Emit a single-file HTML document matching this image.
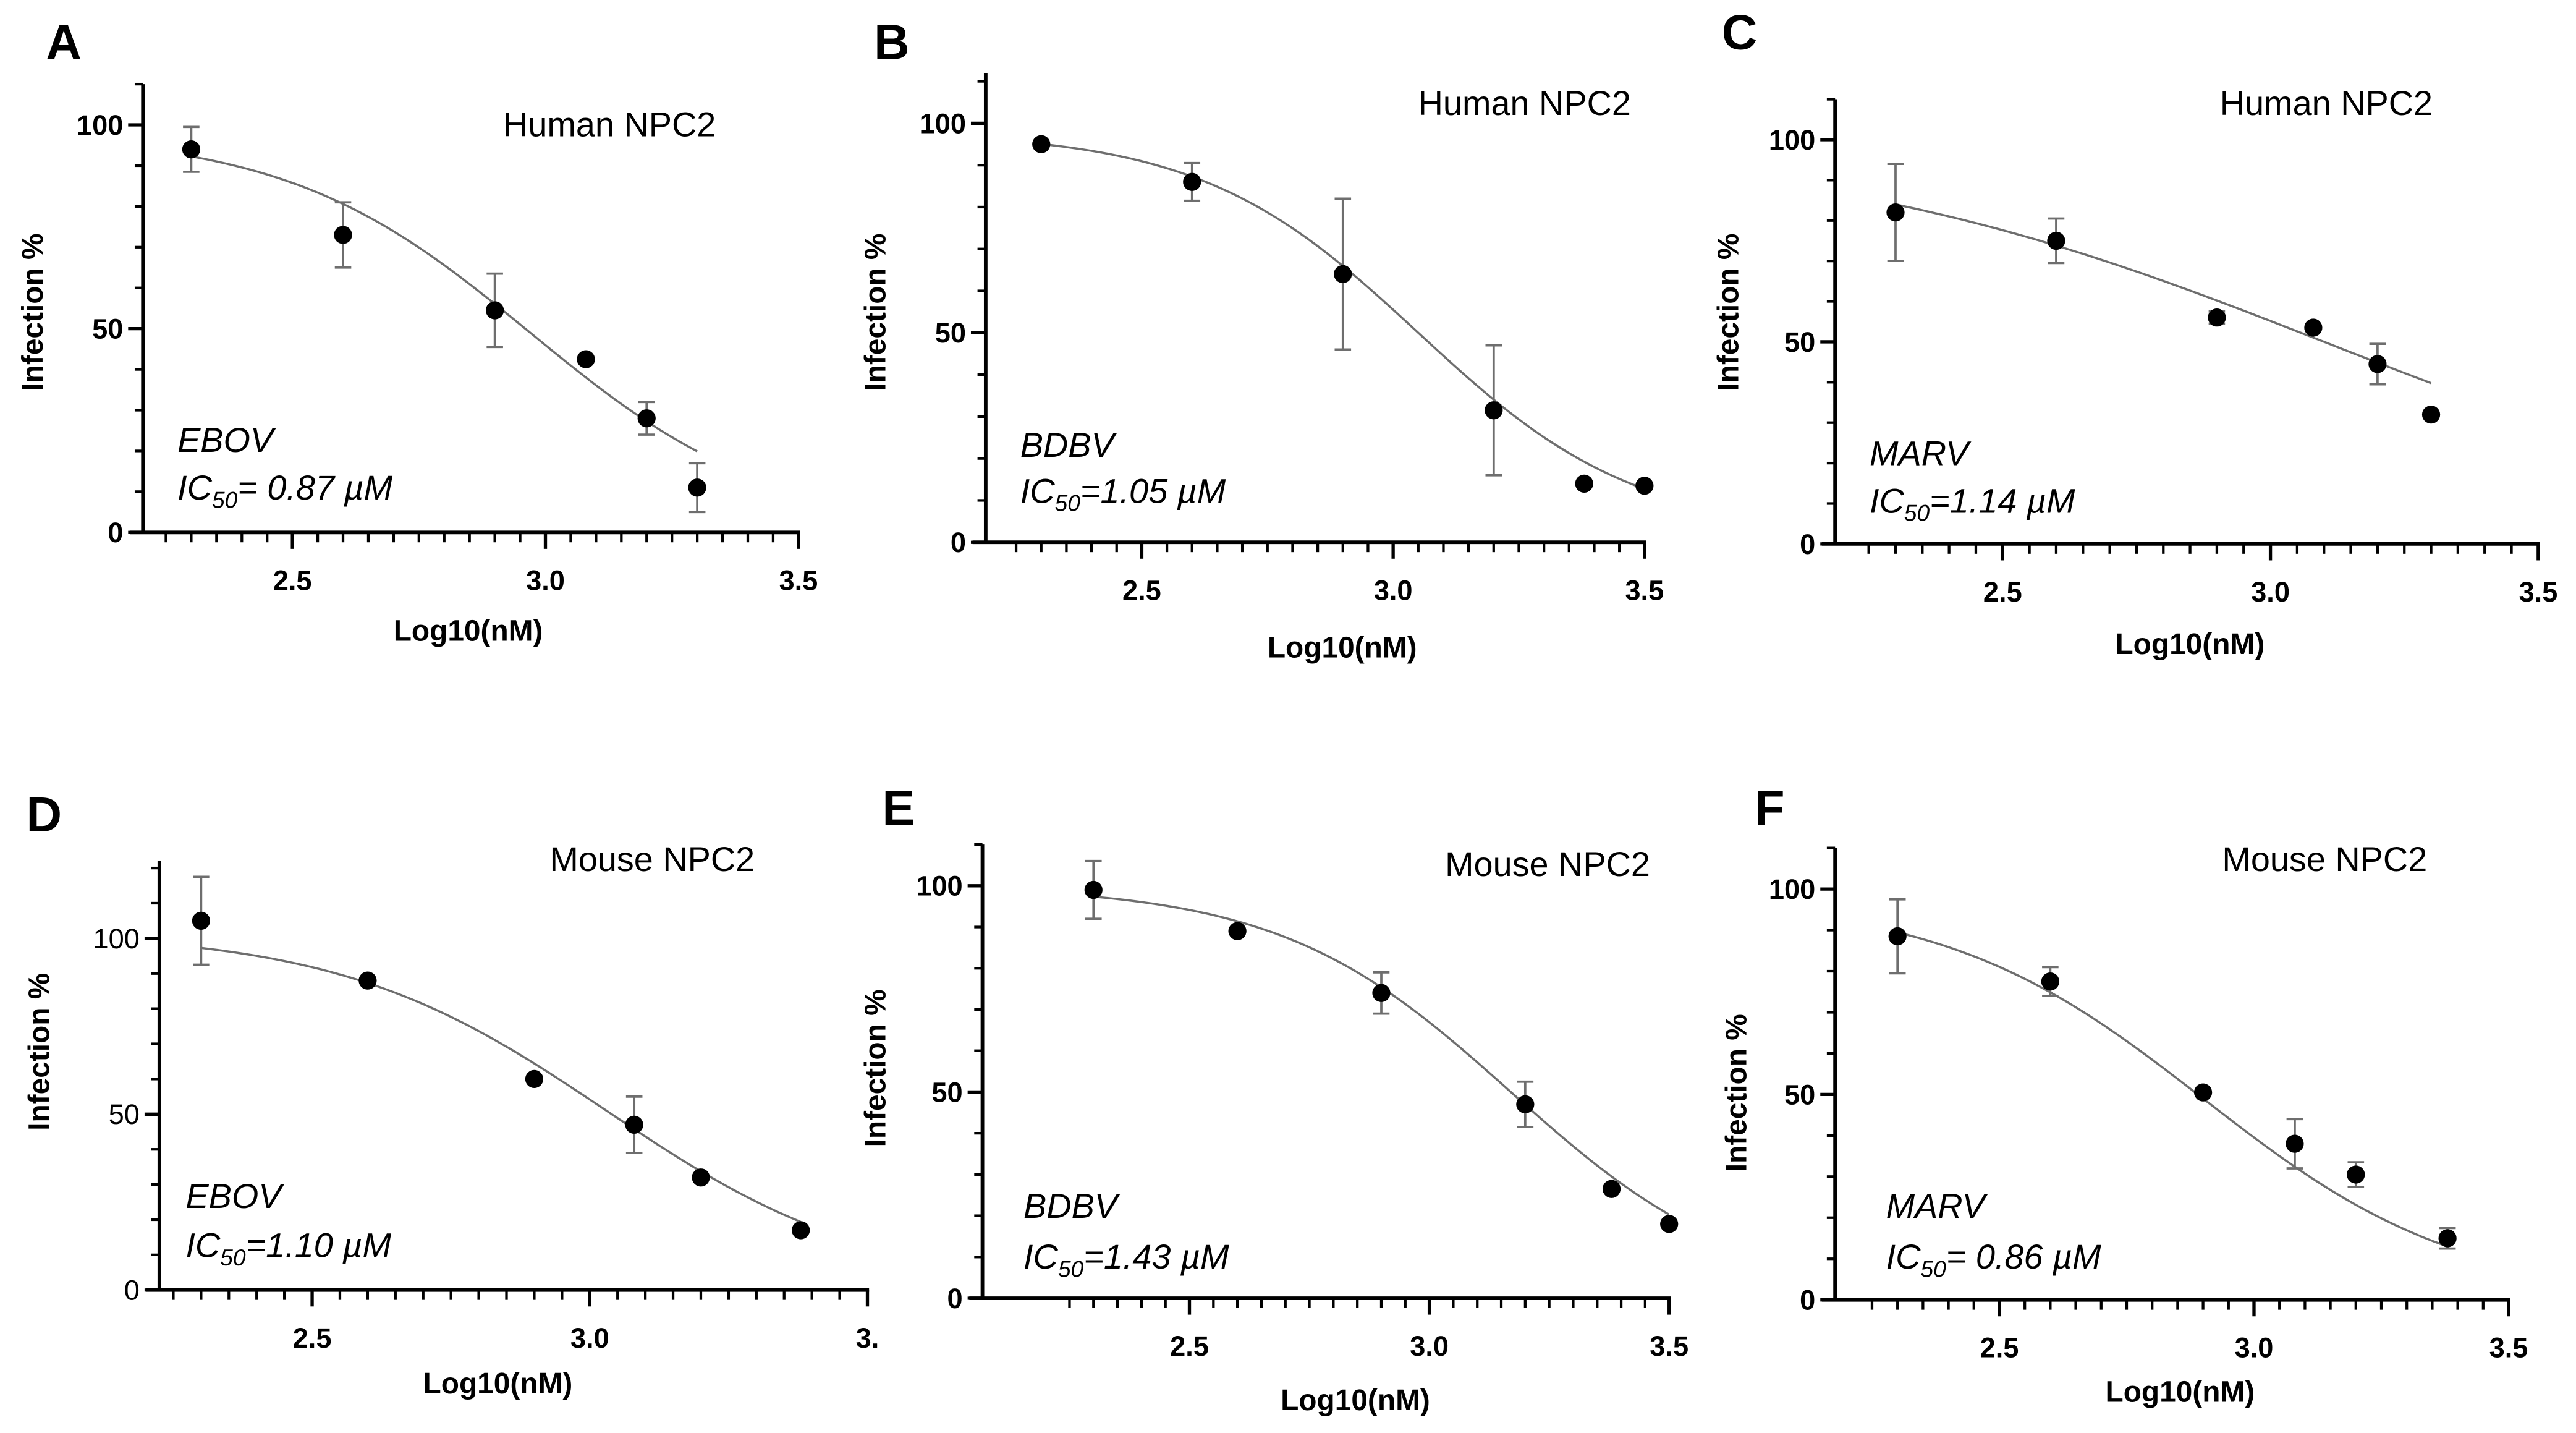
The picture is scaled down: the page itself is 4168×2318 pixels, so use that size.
<!DOCTYPE html>
<html><head><meta charset="utf-8"><style>
html,body{margin:0;padding:0;background:#fff;}
svg{display:block;}
text{font-family:"Liberation Sans",sans-serif;}
</style></head><body>
<svg id="fig" width="4168" height="2318" viewBox="0 0 1568 872" preserveAspectRatio="none" xmlns="http://www.w3.org/2000/svg"></svg>
<script>
// data arrays
const xA=[2.3,2.6,2.9,3.08,3.2,3.3], yA=[94,73,54.5,42.5,28,11], eA=[5.5,8,9,0,4,6];
const xB=[2.3,2.6,2.9,3.2,3.38,3.5], yB=[95,86,64,31.5,14,13.5], eB=[0,4.5,18,15.5,0,0];
const xC=[2.3,2.6,2.9,3.08,3.2,3.3], yC=[82,75,56,53.5,44.5,32], eC=[12,5.5,1.5,0,5,0];
const xD=[2.3,2.6,2.9,3.08,3.2,3.38], yD=[105,88,60,47,32,17], eD=[12.5,0,0,8,0,0];
const xE=[2.3,2.6,2.9,3.2,3.38,3.5], yE=[99,89,74,47,26.5,18], eE=[7,0,5,5.5,0,0];
const xF=[2.3,2.6,2.9,3.08,3.2,3.38], yF=[88.5,77.5,50.5,38,30.5,15], eF=[9,3.5,0,6,3,2.5];
// fit params: top, bottom, logIC50, hill
const fitA=[98,0,2.97,1.8], fitB=[98,2,3.05,2], fitC=[100,0,3.1,0.9];
const fitD=[102,0,3.03,1.8], fitE=[100,0,3.17,1.8], fitF=[98,0,2.9,1.7];
const xTicks=["2.5","3.0","3.5"];
const yTicks=["0","50","100"];

const NS="http://www.w3.org/2000/svg";
const svg=document.getElementById('fig');
function mk(tag,attrs,parent){const e=document.createElementNS(NS,tag);for(const k in attrs)e.setAttribute(k,attrs[k]);(parent||svg).appendChild(e);return e;}

const panels=[
 {id:'a',L:'A',lp:[28,36],ax:87,y0:324,y100:76,x25:178,x30:332,ymax:110,x:xA,y:yA,e:eA,fit:fitA,lab:'Human NPC2',lx:371,ly:83,v:'EBOV',vx:108,vy:275,ic:'= 0.87 µM',icy:304,ytx:20,yty:190,xtx:285,xty:390,bold:true,last:'3.5'},
 {id:'b',L:'B',lp:[532,36],ax:600,y0:330,y100:75,x25:695,x30:848,ymax:112,x:xB,y:yB,e:eB,fit:fitB,lab:'Human NPC2',lx:928,ly:70,v:'BDBV',vx:621,vy:278,ic:'=1.05 µM',icy:306,ytx:533,yty:190,xtx:817,xty:400,bold:true,last:'3.5'},
 {id:'c',L:'C',lp:[1048,30],ax:1117,y0:331,y100:85,x25:1219,x30:1382,ymax:110,x:xC,y:yC,e:eC,fit:fitC,lab:'Human NPC2',lx:1416,ly:70,v:'MARV',vx:1138,vy:283,ic:'=1.14 µM',icy:312,ytx:1052,yty:190,xtx:1333,xty:398,bold:true,last:'3.5'},
 {id:'d',L:'D',lp:[16,506],ax:97,y0:785,y100:571,x25:190,x30:359,ymax:122,x:xD,y:yD,e:eD,fit:fitD,lab:'Mouse NPC2',lx:397,ly:530,v:'EBOV',vx:113,vy:735,ic:'=1.10 µM',icy:765,ytx:24,yty:640,xtx:303,xty:848,bold:false,last:'3.'},
 {id:'e',L:'E',lp:[537,502],ax:598,y0:790,y100:539,x25:724,x30:870,ymax:110,x:xE,y:yE,e:eE,fit:fitE,lab:'Mouse NPC2',lx:942,ly:533,v:'BDBV',vx:623,vy:741,ic:'=1.43 µM',icy:772,ytx:533,yty:650,xtx:825,xty:858,bold:true,last:'3.5'},
 {id:'f',L:'F',lp:[1068,502],ax:1117,y0:791,y100:541,x25:1217,x30:1372,ymax:110,x:xF,y:yF,e:eF,fit:fitF,lab:'Mouse NPC2',lx:1415,ly:530,v:'MARV',vx:1148,vy:741,ic:'= 0.86 µM',icy:772,ytx:1057,yty:665,xtx:1327,xty:853,bold:true,last:'3.5'}
];

panels.forEach(p=>{
  const g=mk('g',{});
  
  
  const sx=v=>p.x25+(v-2.5)*(p.x30-p.x25)/0.5;
  const sy=v=>p.y0-(v)*(p.y0-p.y100)/100;
  const L=mk('text',{x:p.lp[0],y:p.lp[1],'font-size':30,'font-weight':'bold'},g);L.textContent=p.L;
  
  const ya=mk('line',{x1:p.ax,x2:p.ax,y1:sy(p.ymax),y2:p.y0+1,stroke:'#000','stroke-width':2.2},g);
  
  for(let v=0;v<=p.ymax;v+=10){
    const maj=v%50===0;
    mk('line',{x1:p.ax-(maj?9:5),x2:p.ax,y1:sy(v),y2:sy(v),stroke:'#000','stroke-width':maj?2:1.6},g);
  }
  yTicks.forEach(t=>{
    const tl=mk('text',{x:p.ax-12,y:sy(+t)+6,'font-size':17,'font-weight':p.bold?'bold':'normal','text-anchor':'end'},g);
    tl.textContent=t;
    
  });
  const xa=mk('line',{x1:p.ax-8,x2:sx(3.5)+1,y1:p.y0,y2:p.y0,stroke:'#000','stroke-width':2.2},g);
  
  for(let i=1;i<=26;i++){
    const v=2.2+i*0.05; if(v>3.501)break;
    const maj=Math.abs(v*2-Math.round(v*2))<1e-6;
    mk('line',{x1:sx(v),x2:sx(v),y1:p.y0,y2:p.y0+(maj?10:6),stroke:'#000','stroke-width':maj?2:1.6},g);
  }
  xTicks.forEach((t,i)=>{
    const tl=mk('text',{x:sx(+t),y:p.y0+35,'font-size':17,'font-weight':'bold','text-anchor':'middle'},g);
    tl.textContent=(i===2)?p.last:t;
    
  });
  const xt=mk('text',{x:p.xtx,y:p.xty,'font-size':18,'font-weight':'bold','text-anchor':'middle'},g);
  xt.textContent='Log10(nM)';
  const yt=mk('text',{x:p.ytx,y:p.yty,'font-size':18,'font-weight':'bold','text-anchor':'middle',transform:`rotate(-90 ${p.ytx} ${p.yty}) translate(0 6)`},g);
  yt.textContent='Infection %';
  const lb=mk('text',{x:p.lx,y:p.ly,'font-size':21,'text-anchor':'middle'},g);
  lb.textContent=p.lab;
  const vt=mk('text',{x:p.vx,y:p.vy,'font-size':21,'font-style':'italic'},g);
  vt.textContent=p.v;
  const ic=mk('text',{x:p.vx,y:p.icy,'font-size':21,'font-style':'italic'},g);
  
  const t1=mk('tspan',{},ic);t1.textContent='IC';
  const t2=mk('tspan',{'font-size':14,dy:5},ic);t2.textContent='50';
  const t3=mk('tspan',{dy:-5},ic);t3.textContent=p.ic;
  const [top,bot,lic,h]=p.fit;
  const x0=p.x[0],x1=p.x[p.x.length-1];
  let d='';
  for(let i=0;i<=80;i++){const xv=x0+(x1-x0)*i/80;const yv=bot+(top-bot)/(1+Math.pow(10,(xv-lic)*h));d+=(i?'L':'M')+sx(xv).toFixed(2)+' '+sy(yv).toFixed(2);}
  const cv=mk('path',{d:d,fill:'none',stroke:'#6e6e6e','stroke-width':1.3},g);
  
  p.x.forEach((xv,i)=>{
    const cx=sx(xv),cy=sy(p.y[i]),e=p.e[i];
    if(e>0){
      const eb=mk('path',{d:`M${cx} ${sy(p.y[i]+e)}L${cx} ${sy(p.y[i]-e)}M${cx-5} ${sy(p.y[i]+e)}L${cx+5} ${sy(p.y[i]+e)}M${cx-5} ${sy(p.y[i]-e)}L${cx+5} ${sy(p.y[i]-e)}`,stroke:'#6e6e6e','stroke-width':1.4,fill:'none'},g);
      
    }
    const pt=mk('circle',{cx:cx,cy:cy,r:5.5,fill:'#000'},g);
    
  });
});
</script>
</body></html>
